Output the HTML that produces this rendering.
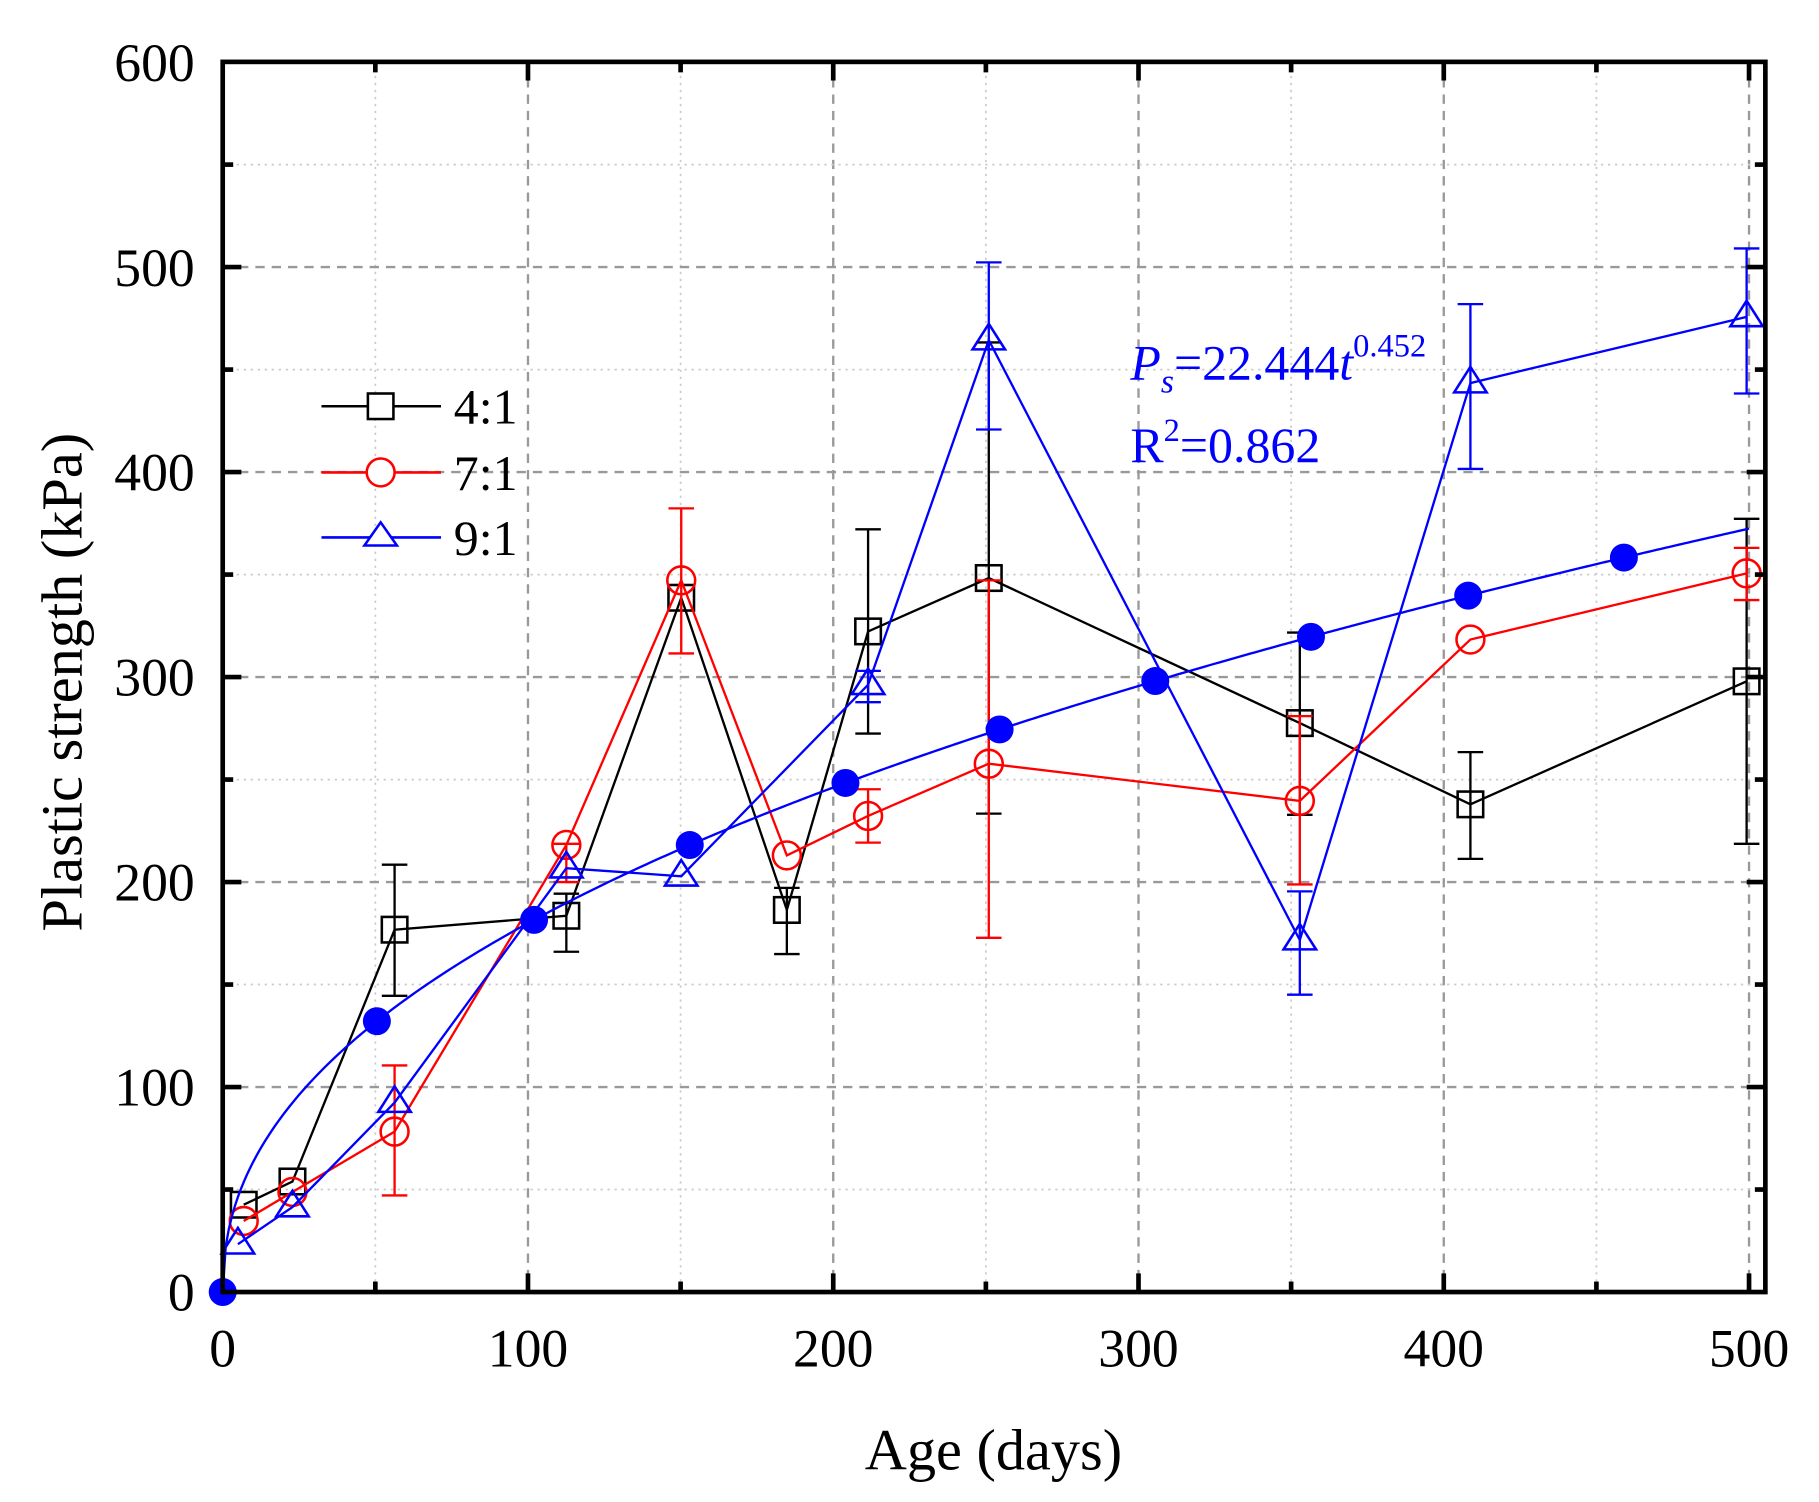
<!DOCTYPE html>
<html><head><meta charset="utf-8"><style>
html,body{margin:0;padding:0;background:#fff;}
svg{display:block;font-family:"Liberation Serif",serif;}
</style></head><body>
<svg id="s" width="1819" height="1502" viewBox="0 0 1560 1288" xmlns="http://www.w3.org/2000/svg">
<rect width="1560" height="1288" fill="#fff"/>
<g id="grid"></g>
<g id="data"></g>
<rect x="191" y="53" width="1323" height="1055" fill="none" stroke="#000" stroke-width="4"/>
<g id="ticks"></g>
<g font-size="46" fill="#000" text-anchor="middle" id="xl"></g>
<g font-size="46" fill="#000" text-anchor="end" id="yl"></g>
<text x="852" y="1260" font-size="50" text-anchor="middle">Age (days)</text>
<text transform="translate(70,585) rotate(-90)" font-size="50" text-anchor="middle">Plastic strength (kPa)</text>
<g transform="scale(0.9953)">
<g stroke-width="2.2" fill="#fff">
<line x1="277" y1="350" x2="380" y2="350" stroke="#000"/><rect x="317" y="339" width="22" height="22" stroke="#000"/>
<line x1="277" y1="407" x2="380" y2="407" stroke="#f00"/><circle cx="328" cy="407" r="12" stroke="#f00"/>
<line x1="277" y1="463" x2="380" y2="463" stroke="#00f"/><path d="M328,450 L342,470 L314,470 Z" stroke="#00f"/>
</g>
<g font-size="43" fill="#000"><text x="391" y="365">4:1</text><text x="391" y="422">7:1</text><text x="391" y="478">9:1</text></g>
<text x="974" y="327" font-size="43" fill="#00f"><tspan font-style="italic">P</tspan><tspan font-style="italic" font-size="29" dy="11">s</tspan><tspan dy="-11">=22.444</tspan><tspan font-style="italic">t</tspan><tspan font-size="28" dy="-20">0.452</tspan></text>
<text x="974" y="398" font-size="43" fill="#00f">R<tspan font-size="28" dy="-18">2</tspan><tspan dy="18">=0.862</tspan></text>
</g>
</svg>
<script>
const NS="http://www.w3.org/2000/svg";
function el(p,t,a){const e=document.createElementNS(NS,t);for(const k in a)e.setAttribute(k,a[k]);p.appendChild(e);return e;}
const X=d=>191+d*2.618, Y=v=>1108-v*1.758;
const g=document.getElementById('grid'),tk=document.getElementById('ticks');
for(let d=50;d<=500;d+=50){const maj=d%100==0;el(g,'line',{x1:X(d),x2:X(d),y1:53,y2:1108,stroke:maj?'#999':'#ccc','stroke-width':maj?2:1.5,'stroke-dasharray':maj?'8,6':'2,4'});
el(tk,'line',{x1:X(d),x2:X(d),y1:1108,y2:1108-(maj?16:9),stroke:'#000','stroke-width':4});el(tk,'line',{x1:X(d),x2:X(d),y1:53,y2:53+(maj?16:9),stroke:'#000','stroke-width':4});}
for(let v=50;v<600;v+=50){const maj=v%100==0;el(g,'line',{x1:191,x2:1514,y1:Y(v),y2:Y(v),stroke:maj?'#999':'#ccc','stroke-width':maj?2:1.5,'stroke-dasharray':maj?'8,6':'2,4'});
el(tk,'line',{x1:191,x2:191+(maj?16:9),y1:Y(v),y2:Y(v),stroke:'#000','stroke-width':4});el(tk,'line',{x1:1514,x2:1514-(maj?16:9),y1:Y(v),y2:Y(v),stroke:'#000','stroke-width':4});}
const xl=document.getElementById('xl'),yl=document.getElementById('yl');
for(let d=0;d<=500;d+=100){const t=el(xl,'text',{x:X(d),y:1172});t.textContent=d;}
for(let v=0;v<=600;v+=100){const t=el(yl,'text',{x:167,y:Y(v)+16});t.textContent=v;}
const D0=document.getElementById('data');
const D=el(D0,'g',{transform:'scale(0.9953)'});
function series(pts,bars,col,mk){
 for(const b of bars){el(D,'line',{x1:b[0],x2:b[0],y1:b[1],y2:b[2],stroke:col,'stroke-width':2});
  for(const y of [b[1],b[2]])el(D,'line',{x1:b[0]-11,x2:b[0]+11,y1:y,y2:y,stroke:col,'stroke-width':2});}
 el(D,'polyline',{points:pts.map(p=>p.join(',')).join(' '),fill:'none',stroke:col,'stroke-width':2});
 for(const p of pts){const [x,y]=p;
  if(mk=='s')el(D,'rect',{x:x-11,y:y-11,width:22,height:22,fill:'none',stroke:col,'stroke-width':2.2});
  else if(mk=='c')el(D,'circle',{cx:x,cy:y,r:12,fill:'none',stroke:col,'stroke-width':2.2});
  else el(D,'path',{d:`M${x},${y-14} L${x+14},${y+8} L${x-14},${y+8} Z`,fill:'none',stroke:col,'stroke-width':2.2});}
}
let d='';for(let t=0;t<=500;t+=1){d+=(t?'L':'M')+X(t)+','+Y(22.444*Math.pow(t,0.452));}
el(D0,'path',{d:d,fill:'none',stroke:'#00f','stroke-width':2});
series([[210,1038],[252,1018],[340,801],[488,789],[587,515],[678,784],[748,544],[852,498],[1120,623],[1267,693],[1505,587]],
 [[340,745,858],[488,770,820],[678,765,822],[748,456,632],[852,295,701],[1120,545,702],[1267,648,740],[1505,447,727]],'#000','s');
series([[210,1052],[252,1027],[340,975],[488,728],[587,500],[678,737],[748,703],[852,658],[1120,690],[1267,551],[1505,494]],
 [[340,918,1030],[488,727,760],[587,438,563],[748,680,726],[852,500,808],[1120,617,762],[1505,472,517]],'#f00','c');
series([[205,1072],[252,1040],[340,950],[488,748],[587,755],[748,590],[852,293],[1120,810],[1267,330],[1505,273]],
 [[748,578,605],[852,226,370],[1120,768,857],[1267,262,404],[1505,214,339]],'#00f','t');
for(const t of [0,50.5,102,153,204,254.5,305.5,356.5,408,459]){el(D0,'circle',{cx:X(t),cy:Y(22.444*Math.pow(t,0.452)),r:12,fill:'#00f'});}
</script>
</body></html>
